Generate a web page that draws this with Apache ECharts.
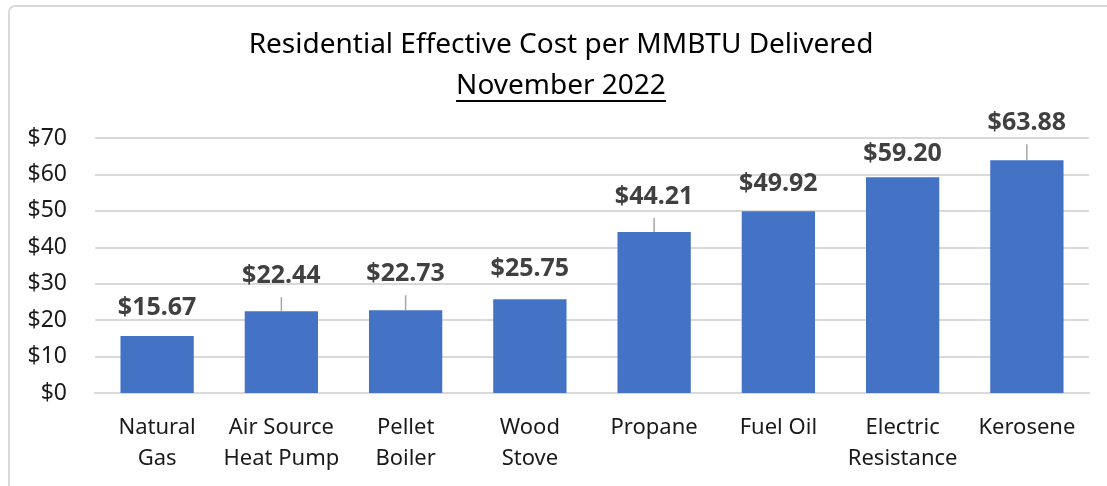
<!DOCTYPE html>
<html>
<head>
<meta charset="utf-8">
<script src="https://cdn.jsdelivr.net/npm/echarts@6/dist/echarts.min.js"></script>
<style>
  html, body { margin: 0; padding: 0; background: #fff; }
  #chart { width: 1107px; height: 486px; }
</style>
</head>
<body>
<div id="chart"></div>
<script>
var categories = ['Natural\nGas', 'Air Source\nHeat Pump', 'Pellet\nBoiler', 'Wood\nStove',
    'Propane', 'Fuel Oil', 'Electric\nResistance', 'Kerosene'];
var costs = [15.67, 22.44, 22.73, 25.75, 44.21, 49.92, 59.20, 63.88];
var yTicks = [0, 70, 10]; // min, max, step

// how far each callout sits above its bar (Excel placed them by hand)
var labelLift = [7, 14, 15, 9, 14, 6, 2, 16];
var hasLeader = [false, true, true, false, true, false, false, true];

var FONT = 'Noto Sans';
var TITLE_FONT = '28px "' + FONT + '"';

var chartDom = document.getElementById('chart');
var myChart = echarts.init(chartDom);

var ctx = document.createElement('canvas').getContext('2d');
ctx.font = TITLE_FONT;
var subW = ctx.measureText('November 2022').width;

var barData = costs.map(function (v, i) {
    return { value: v, labelLine: { show: hasLeader[i] } };
});

var option = {
    animation: false,
    graphic: [
        {
            type: 'rect', silent: true,
            shape: { x: 9, y: 6, width: 1200, height: 600, r: 6 },
            style: { fill: 'none', stroke: '#d9d9d9', lineWidth: 2 }
        },
        {
            type: 'text', x: 561, y: 45,
            style: {
                text: 'Residential Effective Cost per MMBTU Delivered',
                font: TITLE_FONT, fill: '#000',
                textAlign: 'center', textVerticalAlign: 'middle'
            }
        },
        {
            type: 'text', x: 561, y: 86,
            style: {
                text: 'November 2022',
                font: TITLE_FONT, fill: '#000',
                textAlign: 'center', textVerticalAlign: 'middle'
            }
        },
        {
            type: 'line',
            shape: { x1: 561 - subW / 2, y1: 101, x2: 561 + subW / 2, y2: 101 },
            style: { stroke: '#000', lineWidth: 2 }
        }
    ],
    grid: {
        left: 95,
        right: 18,
        top: 138,
        bottom: 93
    },
    xAxis: {
        type: 'category',
        data: categories,
        axisTick: { show: false },
        axisLine: { lineStyle: { color: '#d9d9d9', width: 2 } },
        axisLabel: {
            interval: 0,
            margin: 19,
            fontFamily: FONT,
            fontSize: 22,
            lineHeight: 31,
            color: '#1a1a1a'
        }
    },
    yAxis: {
        type: 'value',
        min: yTicks[0],
        max: yTicks[1],
        interval: yTicks[2],
        axisLine: { show: false },
        axisTick: { show: false },
        splitLine: { lineStyle: { color: '#d9d9d9', width: 2 } },
        axisLabel: {
            margin: 28,
            fontFamily: FONT,
            fontSize: 23,
            color: '#1a1a1a',
            formatter: '${value}'
        }
    },
    series: [
        {
            type: 'bar',
            data: barData,
            barWidth: '59%',
            itemStyle: { color: '#4472c4' },
            label: {
                show: true,
                position: 'top',
                distance: 0,
                padding: [0, 0, 8, 0],
                fontFamily: FONT,
                fontSize: 25,
                fontWeight: 'bold',
                lineHeight: 26,
                color: '#404040',
                formatter: function (p) {
                    return '$' + p.value.toFixed(2);
                }
            },
            labelLine: {
                show: false,
                lineStyle: { color: '#a6a6a6', width: 1.5 }
            },
            labelLayout: function (params) {
                return { dy: -labelLift[params.dataIndex] };
            }
        }
    ]
};

option && myChart.setOption(option);
</script>
</body>
</html>
